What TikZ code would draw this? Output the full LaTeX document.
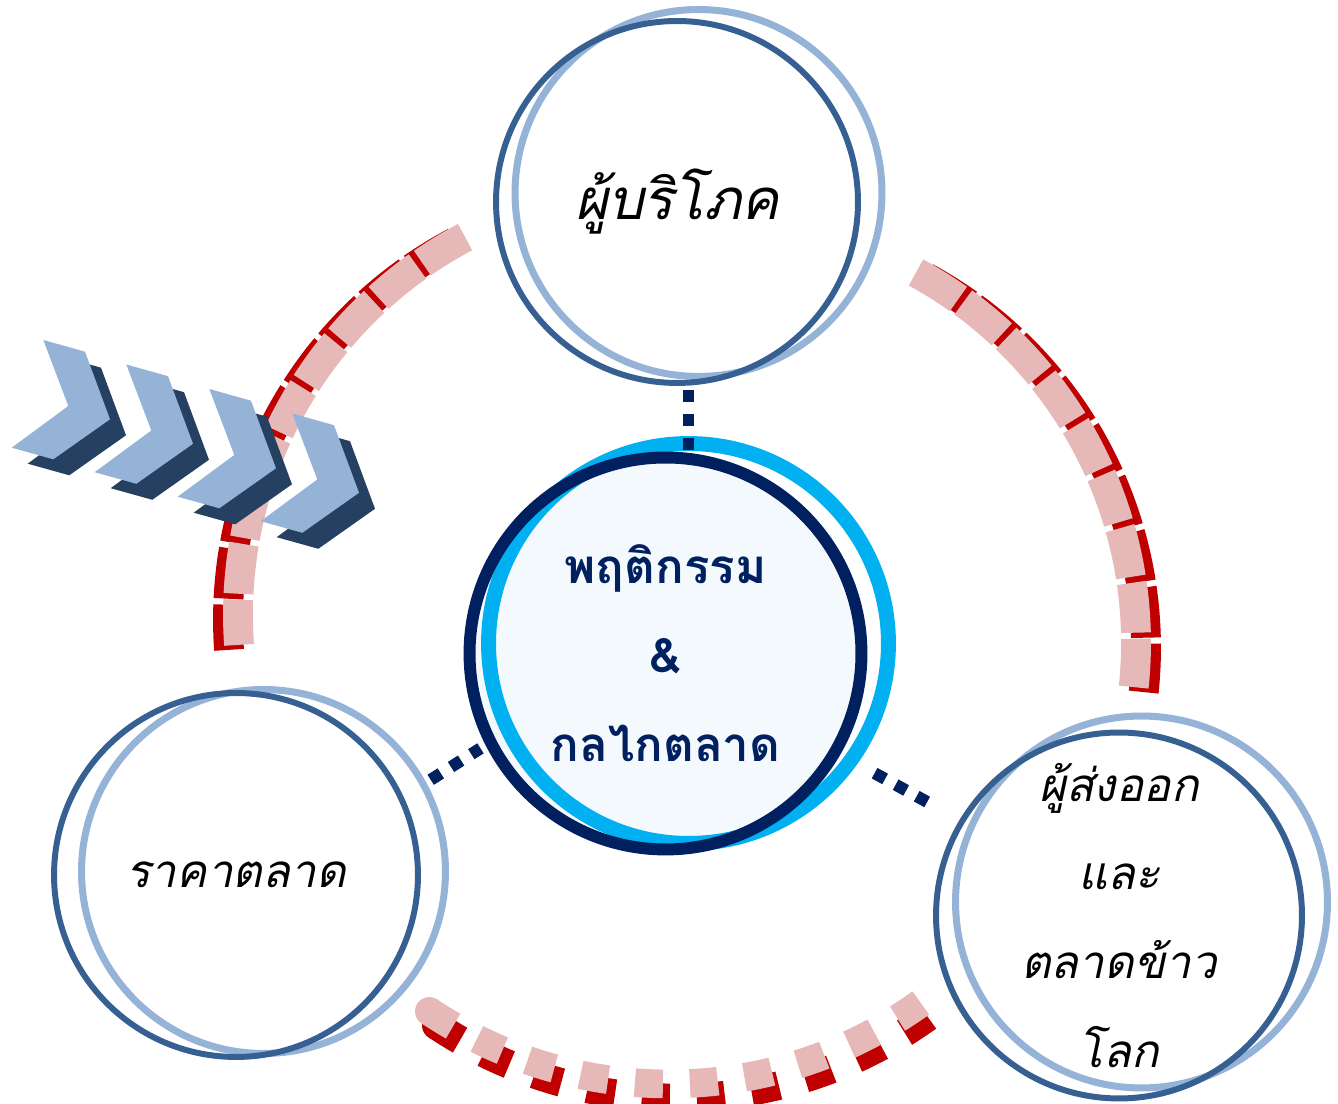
\documentclass[tikz,border=0pt]{standalone}
\usepackage{fontspec}
\usepackage{tikz}
\usetikzlibrary{calc}
\pgfdeclarelayer{background}
\pgfdeclarelayer{foreground}
\pgfsetlayers{background,main,foreground}
\newfontfamily\thaifont[Script=Thai]{Loma}
\definecolor{ringdark}{RGB}{55,96,146}
\definecolor{ringlight}{RGB}{149,179,215}
\definecolor{navy}{RGB}{0,32,96}
\definecolor{sky}{RGB}{0,176,240}
\definecolor{corefill}{RGB}{244,249,253}
\definecolor{rose}{RGB}{230,185,184}
\definecolor{deepred}{RGB}{192,0,0}
\definecolor{chevdark}{RGB}{37,64,97}
\tikzstyle{rimdark}   = [circle, inner sep=0pt, draw=ringdark, line width=3.4pt]
\tikzstyle{halo}      = [circle, inner sep=0pt, draw=ringlight, line width=4pt]
\tikzstyle{link}      = [navy, line width=6.8pt, dash pattern=on 0.24cm off 0.24cm]
\tikzstyle{band}      = [line width=17pt, dash pattern=on 1cm off 0.12cm]
\tikzstyle{dotband}   = [line width=16.3pt, dash pattern=on 0.56cm off 0.54cm]
\tikzstyle{chev}      = [fill=ringlight]
\tikzstyle{chevshadow}= [fill=chevdark]
\tikzset{caption/.style={font=\thaifont\itshape\fontsize{#1}{50.6pt}\selectfont, align=center}}

\begin{document}
\begin{tikzpicture}[x=0.02cm, y=0.02cm]
  \useasboundingbox (0,0) rectangle (1338,1104);

  \coordinate (leftHub)  at (666,489);
  \coordinate (rightHub) at (714,461);
  \coordinate (lowHub)   at (669,452);

  \draw [band, deepred] ([shift={(-10,-5)}]leftHub) ++(118:428) arc[start angle=118, end angle=184, radius=428];
  \draw [band, rose] (leftHub) ++(118:428) arc[start angle=118, end angle=184, radius=428];

  \draw [band, deepred] ([shift={(10,-5)}]rightHub) ++(61.4:422) arc[start angle=61.4, end angle=-6, radius=422];
  \draw [band, rose] (rightHub) ++(61.4:422) arc[start angle=61.4, end angle=-6, radius=422];

  \fill [deepred] ([shift={(7,-14)}]lowHub) ++(236.3:432) circle (8.15pt);
  \draw [dotband, deepred] ([shift={(7,-14)}]lowHub) ++(236.3:432) arc[start angle=236.3, end angle=305.9, radius=432];
  \fill [rose] (lowHub) ++(236.3:432) circle (8.15pt);
  \draw [dotband, rose] (lowHub) ++(236.3:432) arc[start angle=236.3, end angle=305.9, radius=432];

  \fill [chevshadow, shift={(59.3,748)}] (0,0) -- (41.7,-11.7) -- (66.7,-79.3) -- (10,-119.3) -- (-31.6,-107.7) -- (25,-66) -- cycle;
  \fill [chev, shift={(43.3,764)}] (0,0) -- (41.7,-11.7) -- (66.7,-79.3) -- (10,-119.3) -- (-31.6,-107.7) -- (25,-66) -- cycle;
  \fill [chevshadow, shift={(142.3,723.5)}] (0,0) -- (41.7,-11.7) -- (66.7,-79.3) -- (10,-119.3) -- (-31.6,-107.7) -- (25,-66) -- cycle;
  \fill [chev, shift={(126.3,739.5)}] (0,0) -- (41.7,-11.7) -- (66.7,-79.3) -- (10,-119.3) -- (-31.6,-107.7) -- (25,-66) -- cycle;
  \fill [chevshadow, shift={(225.3,699)}] (0,0) -- (41.7,-11.7) -- (66.7,-79.3) -- (10,-119.3) -- (-31.6,-107.7) -- (25,-66) -- cycle;
  \fill [chev, shift={(209.3,715)}] (0,0) -- (41.7,-11.7) -- (66.7,-79.3) -- (10,-119.3) -- (-31.6,-107.7) -- (25,-66) -- cycle;
  \fill [chevshadow, shift={(308.3,674.5)}] (0,0) -- (41.7,-11.7) -- (66.7,-79.3) -- (10,-119.3) -- (-31.6,-107.7) -- (25,-66) -- cycle;
  \fill [chev, shift={(292.3,690.5)}] (0,0) -- (41.7,-11.7) -- (66.7,-79.3) -- (10,-119.3) -- (-31.6,-107.7) -- (25,-66) -- cycle;

  \node (consumerHalo) [halo, minimum size=7.34cm] at (698.5,911) {};
  \node (consumer) [rimdark, minimum size=7.24cm, caption=32pt] at (677,902) {ผู้บริโภค};

  \node (priceHalo) [halo, minimum size=7.28cm] at (263.5,232.5) {};
  \node (price) [rimdark, minimum size=7.28cm, caption=26pt] at (236,229) {ราคาตลาด};

  \node (exporterHalo) [halo, minimum size=7.44cm] at (1141.5,202) {};
  \node (exporter) [rimdark, minimum size=7.32cm, caption=26pt] at (1119,188.5) {ผู้ส่งออก\\และ\\ตลาดข้าว\\โลก};

  \node (coreRing) [circle, inner sep=0pt, draw=sky, line width=8.5pt, minimum size=8cm] at (688.5,460.5) {};
  \node (core) [circle, inner sep=0pt, draw=navy, line width=6.8pt, minimum size=7.84cm, text=navy, align=center,
                font=\thaifont\bfseries\fontsize{27pt}{50.6pt}\selectfont] at (665.5,450.5) {พฤติกรรม\\\&\\กลไกตลาด};
  \begin{pgfonlayer}{background}
    \fill [corefill] (core.center) circle (196);
  \end{pgfonlayer}

  \draw [link, shorten <=0.08cm] (coreRing.north |- consumer.south) -- (coreRing.north |- core.north);
  \draw [link, shorten <=0.64cm, shorten >=0.12cm] (price.25) -- (core.207);
  \draw [link, shorten <=0.78cm, shorten >=0.74cm] (core.-30) -- (exporter.149);

\end{tikzpicture}
\end{document}
